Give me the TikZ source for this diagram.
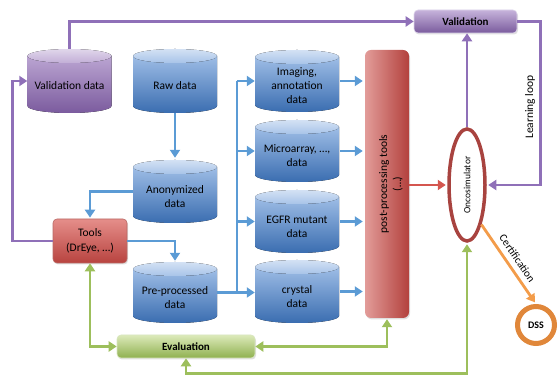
\documentclass[tikz,border=0pt]{standalone}
\usepackage{fontspec}
\setmainfont{Carlito}
\usetikzlibrary{arrows.meta,shapes.geometric,shadows}
\definecolor{cblue}{HTML}{5B9BD5}
\definecolor{cpurp}{HTML}{8F70B8}
\definecolor{cgreen}{HTML}{9DBF5C}
\definecolor{cred}{HTML}{D4564F}
\definecolor{corange}{HTML}{F39C4A}
\definecolor{bluetop}{HTML}{9EBDE6}
\definecolor{bluebot}{HTML}{3A6DB0}
\definecolor{purptop}{HTML}{BBA5D2}
\definecolor{purpbot}{HTML}{7B5B9E}
\definecolor{oncored}{HTML}{A8433F}
\definecolor{toolstop}{HTML}{E58E8A}
\definecolor{toolsbot}{HTML}{B8433F}
\definecolor{validtop}{HTML}{C6B3DB}
\definecolor{validbot}{HTML}{7A5B9D}
\definecolor{evaltop}{HTML}{DCEABA}
\definecolor{evalbot}{HTML}{8FB04F}
\definecolor{postleft}{HTML}{E29C99}
\definecolor{postmid}{HTML}{CF6A66}
\definecolor{postright}{HTML}{B3413D}
\definecolor{dssring}{HTML}{E0873A}
\newcommand{\dbcyl}[7]{%
  \fill[top color=#5, bottom color=#6] ({#2-42},{379-#3-7}) -- ({#2-42},{379-#4+7}) arc[start angle=180,end angle=360,x radius=42,y radius=7] -- ({#2+42},{379-#3-7}) -- cycle;
  \fill[top color=#5!45!white, bottom color=#5!90!white] (#2,{379-#3-7}) ellipse[x radius=42,y radius=7];
  \node[cylnode, minimum height={(#4-#3)*1pt}] (#1) at (#2,{379-(#3+#4)/2}) {};
  \node[cyltext] (#1-t) at (#2,{379-(#3+#4)/2-5}) {#7};
}
\begin{document}
\begin{tikzpicture}[x=1pt,y=1pt,
  >={Triangle[width=10pt,length=8pt]},
  cylnode/.style={rectangle, minimum width=84pt, inner sep=0pt},
  cyltext/.style={align=center, font=\fontsize{11.5}{14}\selectfont, inner sep=0pt},
  conn/.style={line width=2.8pt},
  bluec/.style={conn, draw=cblue, ->},
  purpc/.style={conn, draw=cpurp, ->},
  greenc/.style={conn, draw=cgreen, <->},
  boxnode/.style={rectangle, rounded corners=4pt, inner sep=0pt, drop shadow={opacity=0.25, shadow xshift=1pt, shadow yshift=-1.5pt}},
]
\useasboundingbox (0,0) rectangle (559,379);

% cylinders
\dbcyl{vdata}{69.5}{49}{113}{purptop}{purpbot}{Validation data}
\dbcyl{raw}{175}{49}{113}{bluetop}{bluebot}{Raw data}
\dbcyl{anon}{175}{160}{223}{bluetop}{bluebot}{Anonymized\\data}
\dbcyl{pre}{175}{262}{323}{bluetop}{bluebot}{Pre-processed\\data}
\dbcyl{img}{297}{50}{112}{bluetop}{bluebot}{Imaging,\\annotation\\data}
\dbcyl{micro}{297}{120}{182}{bluetop}{bluebot}{Microarray, …,\\data}
\dbcyl{egfr}{297}{190}{253}{bluetop}{bluebot}{EGFR mutant\\data}
\dbcyl{cryst}{297}{260}{323}{bluetop}{bluebot}{crystal\\data}

% boxes
\node[boxnode, draw=oncored!80, line width=0.6pt, top color=toolstop, bottom color=toolsbot, minimum width=74pt, minimum height=44pt, align=center, font=\fontsize{11.5}{15}\selectfont] (tools) at (90,138) {Tools\\(DrEye, …)};
\node[boxnode, draw=white!70!cpurp, line width=0.6pt, top color=validtop, bottom color=validbot, minimum width=103pt, minimum height=23pt, font=\bfseries\fontsize{11}{13}\selectfont] (valid) at (465.5,357.5) {Validation};
\node[boxnode, draw=white!60!cgreen, line width=0.6pt, top color=evaltop, bottom color=evalbot, minimum width=138pt, minimum height=23pt, font=\bfseries\fontsize{11}{13}\selectfont] (eval) at (186,32.5) {Evaluation};
\node[boxnode, rounded corners=6pt, left color=postleft, middle color=postmid, right color=postright, minimum width=44pt, minimum height=268pt] (post) at (387,195) {};
\node[rotate=90, align=center, font=\fontsize{11.5}{14}\selectfont] (post-t) at (391,195) {post-processing tools\\(…)};

% oncosimulator and DSS
\node[ellipse, draw=oncored, line width=3.5pt, fill=white, minimum width=36pt, minimum height=112pt, inner sep=0pt] (onco) at (467,194) {};
\node[rotate=90, font=\fontsize{9.5}{11}\selectfont] (onco-t) at (467,194) {Oncosimulator};
\node[circle, draw=dssring, line width=5pt, fill=white, minimum size=37pt, inner sep=0pt, font=\bfseries\fontsize{10}{12}\selectfont] (dss) at (536,54) {DSS};

% purple connectors
\draw[purpc] (vdata.north) |- (valid.west);
\draw[purpc] (tools.west) -- ++(-40,0) |- (vdata.west);
\draw[purpc] (onco.north) -- (onco.north |- valid.south);
\draw[purpc, shorten >=1.5pt] (valid.east) -- ++(23,0) |- (onco.east);
\node[rotate=90, font=\fontsize{11.5}{14}\selectfont] (ll) at (530,272) {Learning loop};

% blue connectors
\draw[bluec] (raw.south) -- ([yshift=2pt]anon.north);
\draw[bluec] (anon.west) -| ([yshift=1pt]tools.north);
\draw[bluec] (tools.east) -| ([yshift=1pt]pre.north);
\coordinate (bus) at (237,0);
\draw[conn, draw=cblue] (pre.east) -- (bus |- pre.east) -- (bus |- img.west);
\draw[bluec] (bus |- pre.east) -- (cryst.west |- pre.east);
\draw[bluec] (bus |- img.west) -- (img.west);
\draw[bluec] (bus |- micro.west) -- (micro.west);
\draw[bluec] (bus |- egfr.west) -- (egfr.west);
\foreach \c in {img,micro,egfr,cryst}
  \draw[bluec] ([xshift=1pt]\c.east) -- ([xshift=-2pt]\c.east -| post.west);

% red
\draw[conn, draw=cred, ->, shorten >=1.5pt] (post.east |- onco.west) -- (onco.west);

% green
\draw[greenc] (tools.south) |- (eval.west);
\draw[greenc, shorten >=1pt] (eval.east) -| (post.south);
\draw[greenc, shorten >=1.5pt] (eval.south) -- ++(0,-15) -| (onco.south);

% orange
\draw[conn, draw=corange, ->, shorten >=2pt] (onco.-70) -- (dss.north) node[midway, sloped, above=2pt, font=\fontsize{11}{13}\selectfont] (cert) {Certification};
\end{tikzpicture}
\end{document}
